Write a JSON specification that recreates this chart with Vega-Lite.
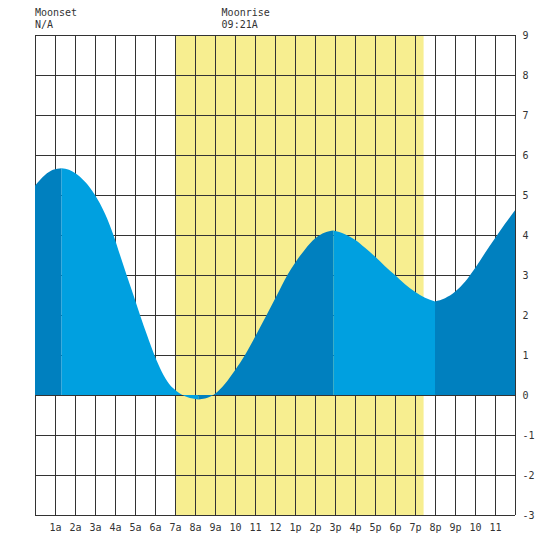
{
  "$schema": "https://vega.github.io/schema/vega-lite/v6.json",
  "width": 480,
  "height": 480,
  "autosize": "none",
  "padding": {"left": 35, "top": 35, "right": 35, "bottom": 35},
  "background": "white",
  "datasets": {
    "tide": [
      {"hour": 0, "level": 5.23, "seg": 1, "dir": "rising"},
      {"hour": 0.5, "level": 5.5, "seg": 1, "dir": "rising"},
      {"hour": 0.9, "level": 5.63, "seg": 1, "dir": "rising"},
      {"hour": 1.33, "level": 5.67, "seg": 1, "dir": "rising"},
      {"hour": 1.33, "level": 5.67, "seg": 2, "dir": "falling"},
      {"hour": 1.7, "level": 5.63, "seg": 2, "dir": "falling"},
      {"hour": 2.0, "level": 5.55, "seg": 2, "dir": "falling"},
      {"hour": 2.5, "level": 5.33, "seg": 2, "dir": "falling"},
      {"hour": 3.0, "level": 5.0, "seg": 2, "dir": "falling"},
      {"hour": 3.5, "level": 4.53, "seg": 2, "dir": "falling"},
      {"hour": 3.92, "level": 4.0, "seg": 2, "dir": "falling"},
      {"hour": 4.25, "level": 3.5, "seg": 2, "dir": "falling"},
      {"hour": 4.58, "level": 3.0, "seg": 2, "dir": "falling"},
      {"hour": 4.92, "level": 2.5, "seg": 2, "dir": "falling"},
      {"hour": 5.25, "level": 2.0, "seg": 2, "dir": "falling"},
      {"hour": 5.6, "level": 1.5, "seg": 2, "dir": "falling"},
      {"hour": 5.97, "level": 1.0, "seg": 2, "dir": "falling"},
      {"hour": 6.35, "level": 0.57, "seg": 2, "dir": "falling"},
      {"hour": 6.7, "level": 0.28, "seg": 2, "dir": "falling"},
      {"hour": 7.1, "level": 0.09, "seg": 2, "dir": "falling"},
      {"hour": 7.6, "level": -0.05, "seg": 2, "dir": "falling"},
      {"hour": 8.17, "level": -0.11, "seg": 2, "dir": "falling"},
      {"hour": 8.17, "level": -0.11, "seg": 3, "dir": "rising"},
      {"hour": 8.5, "level": -0.09, "seg": 3, "dir": "rising"},
      {"hour": 9.0, "level": 0.03, "seg": 3, "dir": "rising"},
      {"hour": 9.5, "level": 0.28, "seg": 3, "dir": "rising"},
      {"hour": 10.0, "level": 0.62, "seg": 3, "dir": "rising"},
      {"hour": 10.5, "level": 1.0, "seg": 3, "dir": "rising"},
      {"hour": 11.05, "level": 1.5, "seg": 3, "dir": "rising"},
      {"hour": 11.58, "level": 2.0, "seg": 3, "dir": "rising"},
      {"hour": 12.1, "level": 2.5, "seg": 3, "dir": "rising"},
      {"hour": 12.62, "level": 3.0, "seg": 3, "dir": "rising"},
      {"hour": 13.0, "level": 3.3, "seg": 3, "dir": "rising"},
      {"hour": 13.5, "level": 3.64, "seg": 3, "dir": "rising"},
      {"hour": 14.0, "level": 3.91, "seg": 3, "dir": "rising"},
      {"hour": 14.5, "level": 4.06, "seg": 3, "dir": "rising"},
      {"hour": 14.92, "level": 4.11, "seg": 3, "dir": "rising"},
      {"hour": 14.92, "level": 4.11, "seg": 4, "dir": "falling"},
      {"hour": 15.5, "level": 4.02, "seg": 4, "dir": "falling"},
      {"hour": 16.0, "level": 3.88, "seg": 4, "dir": "falling"},
      {"hour": 16.5, "level": 3.68, "seg": 4, "dir": "falling"},
      {"hour": 17.0, "level": 3.46, "seg": 4, "dir": "falling"},
      {"hour": 17.5, "level": 3.22, "seg": 4, "dir": "falling"},
      {"hour": 18.0, "level": 3.0, "seg": 4, "dir": "falling"},
      {"hour": 18.5, "level": 2.77, "seg": 4, "dir": "falling"},
      {"hour": 19.0, "level": 2.58, "seg": 4, "dir": "falling"},
      {"hour": 19.5, "level": 2.43, "seg": 4, "dir": "falling"},
      {"hour": 20.0, "level": 2.34, "seg": 4, "dir": "falling"},
      {"hour": 20.0, "level": 2.34, "seg": 5, "dir": "rising"},
      {"hour": 20.5, "level": 2.42, "seg": 5, "dir": "rising"},
      {"hour": 21.0, "level": 2.58, "seg": 5, "dir": "rising"},
      {"hour": 21.5, "level": 2.83, "seg": 5, "dir": "rising"},
      {"hour": 22.0, "level": 3.17, "seg": 5, "dir": "rising"},
      {"hour": 22.5, "level": 3.55, "seg": 5, "dir": "rising"},
      {"hour": 23.0, "level": 3.92, "seg": 5, "dir": "rising"},
      {"hour": 23.5, "level": 4.28, "seg": 5, "dir": "rising"},
      {"hour": 24.0, "level": 4.62, "seg": 5, "dir": "rising"}
    ],
    "daylight": [{"start": 7.0, "end": 19.43}],
    "hours": [
      {"h": 0}, {"h": 1}, {"h": 2}, {"h": 3}, {"h": 4}, {"h": 5}, {"h": 6},
      {"h": 7}, {"h": 8}, {"h": 9}, {"h": 10}, {"h": 11}, {"h": 12},
      {"h": 13}, {"h": 14}, {"h": 15}, {"h": 16}, {"h": 17}, {"h": 18},
      {"h": 19}, {"h": 20}, {"h": 21}, {"h": 22}, {"h": 23}, {"h": 24}
    ],
    "levels": [
      {"v": -3}, {"v": -2}, {"v": -1}, {"v": 0}, {"v": 1}, {"v": 2}, {"v": 3},
      {"v": 4}, {"v": 5}, {"v": 6}, {"v": 7}, {"v": 8}, {"v": 9}
    ],
    "moon": [
      {"hour": 0, "level": 9.55, "label": "Moonset"},
      {"hour": 0, "level": 9.24, "label": "N/A"},
      {"hour": 9.33, "level": 9.55, "label": "Moonrise"},
      {"hour": 9.33, "level": 9.24, "label": "09:21A"}
    ]
  },
  "layer": [
    {
      "data": {"name": "daylight"},
      "mark": {"type": "rect", "color": "#f7ee90"},
      "encoding": {
        "x": {
          "field": "start",
          "type": "quantitative",
          "title": null,
          "scale": {"domain": [0, 24], "nice": false},
          "axis": {
            "values": [1, 2, 3, 4, 5, 6, 7, 8, 9, 10, 11, 12, 13, 14, 15, 16, 17, 18, 19, 20, 21, 22, 23],
            "labelExpr": "datum.value < 10 ? datum.value + 'a' : datum.value < 13 ? '' + datum.value : datum.value < 22 ? (datum.value - 12) + 'p' : '' + (datum.value - 12)",
            "labelOverlap": false
          }
        },
        "x2": {"field": "end"}
      }
    },
    {
      "data": {"name": "levels"},
      "mark": {"type": "rule", "color": "#333333", "strokeWidth": 1, "yOffset": 0.5},
      "encoding": {
        "y": {
          "field": "v",
          "type": "quantitative",
          "title": null,
          "scale": {"domain": [-3, 9], "nice": false},
          "axis": {
            "orient": "right",
            "values": [-3, -2, -1, 0, 1, 2, 3, 4, 5, 6, 7, 8, 9],
            "labelExpr": "'' + datum.value",
            "labelOverlap": false
          }
        }
      }
    },
    {
      "data": {"name": "hours"},
      "mark": {"type": "rule", "color": "#333333", "strokeWidth": 1, "xOffset": 0.5},
      "encoding": {
        "x": {
          "field": "h",
          "type": "quantitative",
          "title": null,
          "axis": {
            "values": [1, 2, 3, 4, 5, 6, 7, 8, 9, 10, 11, 12, 13, 14, 15, 16, 17, 18, 19, 20, 21, 22, 23],
            "labelExpr": "datum.value < 10 ? datum.value + 'a' : datum.value < 13 ? '' + datum.value : datum.value < 22 ? (datum.value - 12) + 'p' : '' + (datum.value - 12)",
            "labelOverlap": false
          }
        }
      }
    },
    {
      "data": {"name": "tide"},
      "mark": {"type": "area", "interpolate": "monotone"},
      "encoding": {
        "x": {
          "field": "hour",
          "type": "quantitative",
          "title": null,
          "axis": {
            "values": [1, 2, 3, 4, 5, 6, 7, 8, 9, 10, 11, 12, 13, 14, 15, 16, 17, 18, 19, 20, 21, 22, 23],
            "labelExpr": "datum.value < 10 ? datum.value + 'a' : datum.value < 13 ? '' + datum.value : datum.value < 22 ? (datum.value - 12) + 'p' : '' + (datum.value - 12)",
            "labelOverlap": false
          }
        },
        "y": {
          "field": "level",
          "type": "quantitative",
          "title": null,
          "axis": {
            "orient": "right",
            "values": [-3, -2, -1, 0, 1, 2, 3, 4, 5, 6, 7, 8, 9],
            "labelExpr": "'' + datum.value",
            "labelOverlap": false
          }
        },
        "y2": {"datum": 0},
        "detail": {"field": "seg", "type": "nominal"},
        "color": {
          "field": "dir",
          "type": "nominal",
          "scale": {"domain": ["rising", "falling"], "range": ["#0080bf", "#00a0e0"]},
          "legend": null
        }
      }
    },
    {
      "data": {"name": "moon"},
      "mark": {
        "type": "text",
        "align": "left",
        "baseline": "middle",
        "font": "DejaVu Sans Mono",
        "fontSize": 10,
        "color": "#333333"
      },
      "encoding": {
        "x": {
          "field": "hour",
          "type": "quantitative",
          "title": null,
          "axis": {
            "values": [1, 2, 3, 4, 5, 6, 7, 8, 9, 10, 11, 12, 13, 14, 15, 16, 17, 18, 19, 20, 21, 22, 23],
            "labelExpr": "datum.value < 10 ? datum.value + 'a' : datum.value < 13 ? '' + datum.value : datum.value < 22 ? (datum.value - 12) + 'p' : '' + (datum.value - 12)",
            "labelOverlap": false
          }
        },
        "y": {
          "field": "level",
          "type": "quantitative",
          "title": null,
          "axis": {
            "orient": "right",
            "values": [-3, -2, -1, 0, 1, 2, 3, 4, 5, 6, 7, 8, 9],
            "labelExpr": "'' + datum.value",
            "labelOverlap": false
          }
        },
        "text": {"field": "label"}
      }
    }
  ],
  "config": {
    "view": {"stroke": null},
    "axis": {
      "labelFont": "DejaVu Sans Mono",
      "labelFontSize": 10,
      "labelColor": "#333333",
      "labelOverlap": false,
      "labelBound": false,
      "labelFlush": false,
      "grid": false,
      "ticks": false,
      "domain": false,
      "labelPadding": 7
    }
  }
}
